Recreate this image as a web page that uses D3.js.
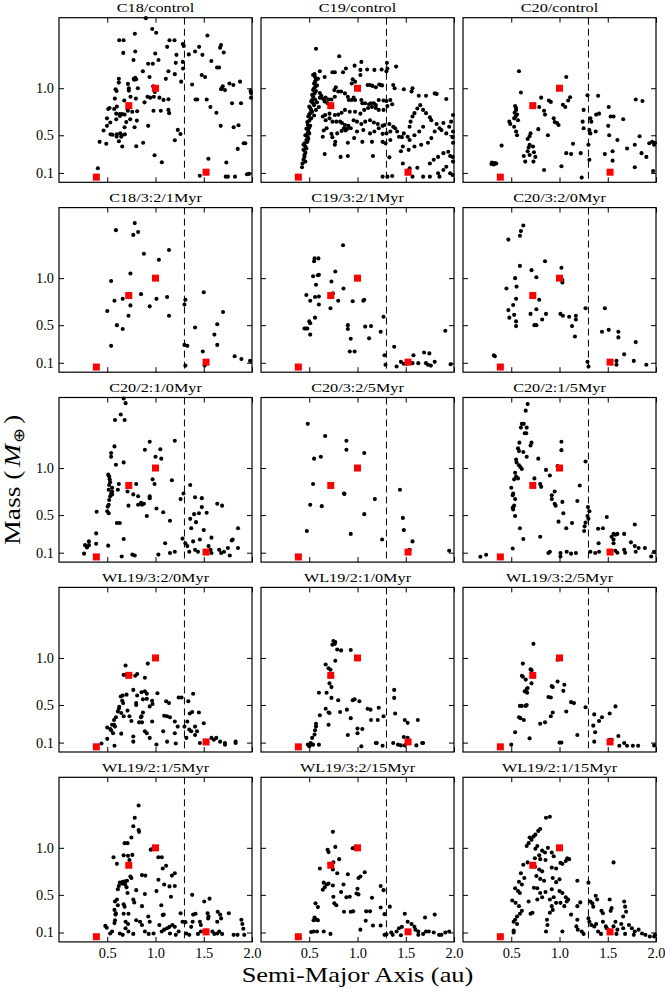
<!DOCTYPE html>
<html><head><meta charset="utf-8">
<script src="https://cdn.jsdelivr.net/npm/d3@7"></script>
<style>
body{margin:0;background:#fff}
svg{display:block}
text{font-family:"Liberation Serif","Times New Roman",Times,serif;fill:#000;font-weight:normal}
</style>
</head><body>
<svg id="chart" width="665" height="993"></svg>
<script>
// ---------- data ----------
const panelTitles = ["C18/control","C19/control","C20/control",
  "C18/3:2/1Myr","C19/3:2/1Myr","C20/3:2/0Myr",
  "C20/2:1/0Myr","C20/3:2/5Myr","C20/2:1/5Myr",
  "WL19/3:2/0Myr","WL19/2:1/0Myr","WL19/3:2/5Myr",
  "WL19/2:1/5Myr","WL19/3:2/15Myr","WL19/2:1/15Myr"];

const planetA = [0.387, 0.723, 1.0, 1.524];
const planetM = [0.055, 0.815, 1.0, 0.107];
const xTickValues = [0.5, 1.0, 1.5, 2.0];
const yTickValues = [0.1, 0.5, 1.0];
const xDomain = [0, 2];
const yDomain = [0, 1.75];
const dashedA = 1.3;

const c18Control = [[0.90,1.745],[0.786,1.58],[0.966,1.63],[1.007,1.59],[0.624,1.51],[0.669,1.51],[0.666,1.376],[0.79,1.39],[0.772,1.30],[1.145,1.51],[1.197,1.51],[1.121,1.44],[1.283,1.47],[1.293,1.45],[0.997,1.37],[1.217,1.355],[1.345,1.36],[1.452,1.44],[1.538,1.56],[1.41,1.39],[1.486,1.355],[1.679,1.46],[1.669,1.43],[1.707,1.38],[1.579,1.29],[1.638,1.22],[1.659,1.22],[0.924,1.26],[0.972,1.26],[1.031,1.30],[1.21,1.27],[1.283,1.28],[1.286,1.21],[0.869,1.18],[0.938,1.12],[1.134,1.18],[1.2,1.15],[1.107,1.10],[1.266,1.07],[0.775,1.10],[0.78,1.09],[0.79,1.11],[0.80,1.095],[0.62,1.10],[0.62,1.06],[0.714,1.046],[0.724,1.0],[0.586,0.99],[0.597,0.97],[0.724,0.975],[0.817,1.0],[0.976,1.02],[0.986,1.0],[0.993,0.96],[0.945,0.90],[0.983,0.91],[1.041,0.90],[1.083,0.876],[1.134,0.883],[0.917,0.91],[0.886,0.85],[0.797,0.89],[0.741,0.91],[0.676,0.87],[0.579,0.89],[0.60,0.805],[0.51,0.78],[0.524,0.79],[0.572,0.78],[0.593,0.73],[0.63,0.725],[0.655,0.725],[0.68,0.72],[0.71,0.78],[0.714,0.76],[0.759,0.75],[0.81,0.755],[0.979,0.76],[1.055,0.76],[1.134,0.77],[1.141,0.735],[0.497,0.68],[0.531,0.635],[0.593,0.67],[0.631,0.705],[0.697,0.64],[0.738,0.67],[0.807,0.656],[0.679,0.585],[0.783,0.585],[0.924,0.60],[0.462,0.55],[0.497,0.60],[0.534,0.51],[0.555,0.505],[0.60,0.51],[0.635,0.52],[0.645,0.485],[0.652,0.50],[0.683,0.51],[0.597,0.486],[0.421,0.43],[0.49,0.41],[0.621,0.436],[0.655,0.38],[0.80,0.383],[0.872,0.42],[1.231,0.557],[1.259,0.514],[1.20,0.447],[0.99,0.287],[1.066,0.213],[1.379,1.04],[1.415,0.88],[1.432,0.88],[1.531,0.88],[1.479,1.14],[1.514,1.12],[1.569,0.80],[1.631,0.74],[1.68,0.99],[1.686,1.0],[1.697,1.02],[1.72,0.98],[1.766,1.05],[1.807,1.035],[1.876,1.07],[1.99,0.95],[1.99,0.90],[1.985,0.97],[1.793,0.84],[1.886,0.84],[1.676,0.60],[1.81,0.585],[1.86,0.607],[1.914,0.415],[1.93,0.415],[1.852,0.355],[1.734,0.21],[1.548,0.25],[1.459,0.07],[1.728,0.06],[1.75,0.06],[1.824,0.06],[1.948,0.085],[1.97,0.09],[0.403,0.15]];

const c19Control = [[0.425,0.16],[0.44,0.24],[0.45,0.27],[0.46,0.315],[0.44,0.345],[0.46,0.38],[0.45,0.415],[0.47,0.45],[0.485,0.48],[0.48,0.515],[0.49,0.54],[0.495,0.575],[0.485,0.61],[0.50,0.655],[0.49,0.70],[0.51,0.735],[0.52,0.77],[0.50,0.805],[0.54,0.84],[0.53,0.875],[0.54,0.91],[0.555,0.945],[0.54,0.98],[0.565,1.02],[0.55,1.05],[0.57,1.09],[0.56,1.12],[0.45,0.29],[0.47,0.36],[0.44,0.40],[0.48,0.43],[0.46,0.50],[0.50,0.52],[0.47,0.57],[0.51,0.60],[0.48,0.64],[0.52,0.68],[0.50,0.72],[0.53,0.75],[0.51,0.79],[0.55,0.82],[0.52,0.86],[0.56,0.88],[0.53,0.93],[0.57,0.97],[0.55,1.0],[0.58,1.03],[0.56,1.07],[0.59,1.10],[0.55,0.71],[0.57,0.77],[0.49,0.46],[0.43,0.20],[0.46,0.22],[0.58,0.85],[0.60,0.80],[0.61,0.90],
[0.61,0.95],[0.625,0.92],[0.64,0.89],[0.66,0.86],[0.67,0.90],[0.70,0.88],[0.69,0.84],[0.73,0.88],[0.765,0.91],[0.76,0.98],[0.775,1.01],[0.80,0.965],[0.83,0.965],[0.87,0.945],[0.90,0.91],[0.91,0.875],[0.94,0.875],[0.96,0.90],[0.975,0.875],[1.04,0.875],[1.05,0.84],[1.08,0.84],[1.12,0.83],[1.14,0.84],[1.17,0.84],[1.19,0.82],[1.22,0.875],[1.27,0.87],[1.30,0.865],[1.34,0.875],[1.36,0.83],[1.31,0.81],[1.27,0.77],[1.22,0.77],[1.19,0.79],[1.15,0.80],[1.11,0.79],[1.07,0.77],[1.03,0.73],[0.975,0.75],[0.92,0.75],[0.87,0.77],[0.835,0.74],[0.80,0.72],[0.765,0.715],[0.71,0.73],[0.665,0.715],[0.64,0.70],[0.67,0.66],[0.71,0.68],[0.74,0.645],[0.78,0.645],[0.82,0.645],[0.84,0.63],[0.87,0.61],[0.86,0.575],[0.875,0.55],[0.89,0.565],[0.905,0.60],[0.93,0.575],[0.96,0.66],[0.995,0.645],[1.04,0.62],[1.08,0.645],[1.13,0.66],[1.17,0.635],[1.21,0.62],[1.26,0.60],[1.28,0.61],[1.33,0.62],[1.37,0.59],[1.39,0.575],[1.41,0.54],[1.34,0.54],[1.30,0.52],[1.26,0.515],[1.22,0.575],[1.175,0.54],[1.13,0.52],[1.06,0.555],[0.995,0.54],[0.965,0.47],[0.835,0.545],[0.79,0.52],[0.73,0.515],[0.68,0.575],[0.65,0.55],[0.64,0.485],[0.74,0.48],[0.77,0.43],[0.765,0.40],[0.90,0.42],[1.05,0.43],[1.15,0.43],[1.26,0.43],[1.29,0.415],[1.34,0.45],[1.43,0.485],[1.46,0.48],[1.48,0.52],[1.54,0.59],[1.55,0.645],[1.57,0.70],[1.59,0.735],[1.62,0.785],[1.65,0.82],[1.68,0.77],[1.71,0.735],[1.75,0.69],[1.765,0.66],[1.82,0.62],[1.85,0.575],[1.87,0.555],[1.92,0.52],[1.95,0.59],[1.97,0.645],[1.89,0.63],[1.80,0.54],[1.765,0.47],[1.73,0.42],[1.66,0.40],[1.59,0.38],[1.53,0.345],[1.54,0.45],[1.59,0.50],[1.64,0.54],[1.68,0.59],[1.52,0.485],[1.47,0.38],[1.45,0.33],[0.66,0.30],[0.825,0.27],[0.90,0.28],[1.16,0.28],[1.33,0.265],[1.47,0.20],[1.54,0.15],[1.62,0.155],[1.75,0.20],[1.79,0.24],[1.835,0.27],[1.89,0.31],[1.94,0.325],[1.96,0.28],[1.92,0.165],[1.89,0.13],[1.835,0.096],[1.75,0.06],[1.68,0.06],[1.57,0.06],[1.52,0.113],[1.26,0.06],[1.31,0.06],[1.36,0.067],[1.85,0.06],[1.96,0.096],[1.985,0.078],[1.99,0.22],[1.985,0.27],
[0.57,1.42],[0.81,1.34],[1.04,1.28],[0.97,1.24],[0.88,1.21],[0.74,1.17],[0.765,1.17],[0.85,1.17],[0.61,1.18],[0.54,1.14],[0.555,1.15],[0.66,1.12],[1.03,1.195],[1.03,1.14],[1.10,1.20],[1.175,1.195],[1.25,1.20],[1.305,1.27],[1.31,1.21],[1.30,1.18],[1.40,1.23],[0.95,1.095],[0.975,1.07],[0.94,1.05],[1.105,1.035],[1.13,1.035],[1.155,1.025],[1.19,1.01],[1.225,1.04],[1.24,1.035],[1.255,1.03],[1.37,1.035],[1.385,1.0],[1.48,0.99],[1.57,1.0],[1.56,0.965],[1.635,0.92],[1.71,0.92],[1.80,0.945],[1.82,0.94],[1.92,0.885],[1.99,0.715],[1.99,0.54],[1.985,0.48],[1.99,0.42]];

const c20Control = [[0.58,1.18],[1.07,1.12],[0.60,0.955],[0.81,0.90],[0.89,0.87],[0.91,0.855],[1.11,0.905],[1.09,0.87],[1.06,0.80],[1.035,0.825],[1.29,0.925],[1.40,0.92],[1.79,0.88],[1.86,0.865],[0.54,0.81],[0.55,0.79],[0.55,0.77],[0.535,0.74],[0.56,0.72],[0.545,0.70],[0.53,0.68],[0.57,0.66],[0.48,0.645],[0.49,0.62],[0.53,0.59],[0.55,0.54],[0.56,0.50],[0.79,0.80],[0.84,0.76],[0.85,0.72],[0.94,0.68],[0.95,0.64],[0.975,0.63],[0.99,0.61],[1.25,0.77],[1.32,0.68],[1.33,0.645],[1.24,0.645],[1.25,0.575],[1.31,0.555],[1.32,0.52],[1.38,0.72],[1.41,0.73],[1.51,0.80],[1.53,0.70],[1.56,0.70],[1.505,0.60],[1.515,0.50],[1.66,0.67],[0.78,0.565],[0.70,0.52],[0.69,0.49],[0.67,0.46],[0.88,0.50],[0.69,0.40],[0.68,0.37],[0.67,0.33],[0.725,0.38],[0.735,0.32],[0.40,0.39],[1.14,0.41],[1.07,0.31],[1.12,0.30],[1.22,0.31],[1.30,0.40],[1.375,0.54],[1.60,0.45],[1.70,0.36],[1.78,0.40],[1.83,0.49],[1.85,0.31],[1.90,0.27],[1.93,0.415],[1.96,0.43],[1.98,0.40],[1.99,0.42],[1.55,0.33],[1.47,0.30],[0.63,0.28],[0.69,0.29],[0.75,0.27],[0.73,0.22],[0.645,0.22],[0.84,0.13],[1.02,0.17],[1.23,0.05],[1.31,0.24],[1.55,0.23],[1.78,0.16],[1.97,0.12],[0.30,0.21],[0.31,0.20],[0.33,0.205],[0.32,0.19],[0.345,0.20],[0.295,0.195]];

const c18Res32at1 = [[0.785,1.585],[0.59,1.51],[0.77,1.46],[0.82,1.49],[0.88,1.26],[1.14,1.30],[1.035,1.195],[0.74,1.05],[0.54,0.97],[0.575,0.76],[0.66,0.78],[0.71,0.83],[0.85,0.83],[1.01,0.78],[1.12,0.80],[0.74,0.71],[0.94,0.70],[0.50,0.65],[0.72,0.60],[1.14,0.60],[0.60,0.50],[0.66,0.46],[0.54,0.28],[1.31,0.77],[1.30,0.72],[1.50,0.85],[1.70,0.64],[1.41,0.475],[1.64,0.51],[1.61,0.40],[1.64,0.29],[1.30,0.29],[1.33,0.28],[1.49,0.22],[1.82,0.17],[1.89,0.14],[1.98,0.12],[1.31,0.07],[1.51,0.07]];

const c19Res32at1 = [[0.85,1.35],[0.555,1.21],[0.595,1.21],[0.55,1.18],[0.77,1.07],[0.59,1.03],[0.60,1.035],[0.54,1.02],[0.73,0.965],[0.57,0.93],[0.47,0.82],[0.56,0.80],[0.60,0.805],[0.51,0.76],[0.60,0.72],[0.74,0.83],[0.745,0.84],[0.855,0.89],[0.80,0.76],[0.72,0.68],[0.95,0.755],[1.06,0.76],[1.07,0.77],[0.56,0.58],[0.50,0.54],[0.51,0.52],[0.45,0.465],[0.465,0.465],[0.48,0.465],[0.51,0.40],[0.90,0.50],[0.90,0.46],[0.93,0.355],[0.92,0.22],[0.97,0.22],[1.08,0.485],[1.14,0.49],[1.12,0.36],[1.24,0.43],[1.27,0.59],[1.28,0.18],[1.29,0.08],[1.38,0.27],[1.405,0.06],[1.45,0.11],[1.48,0.09],[1.58,0.18],[1.57,0.096],[1.63,0.096],[1.69,0.21],[1.745,0.20],[1.71,0.096],[1.73,0.08],[1.76,0.07],[1.80,0.11],[1.91,0.44],[1.965,0.085],[1.51,0.09]];

const c20Res32at0 = [[0.625,1.56],[0.60,1.50],[0.59,1.45],[0.47,1.41],[0.85,1.18],[0.59,1.13],[1.02,1.11],[0.71,1.085],[0.76,1.01],[0.54,1.0],[1.03,0.98],[1.03,0.955],[0.45,0.89],[0.555,0.91],[0.55,0.78],[0.79,0.77],[0.52,0.715],[0.47,0.66],[0.76,0.67],[0.70,0.62],[0.86,0.62],[0.53,0.61],[0.48,0.58],[0.55,0.54],[0.55,0.49],[0.82,0.56],[0.74,0.50],[0.76,0.50],[1.01,0.62],[1.035,0.60],[1.10,0.59],[1.17,0.60],[1.17,0.56],[1.13,0.49],[1.16,0.38],[1.27,0.68],[1.47,0.68],[1.44,0.43],[1.51,0.45],[1.61,0.43],[1.61,0.37],[1.79,0.32],[1.67,0.19],[1.77,0.12],[1.90,0.08],[1.59,0.12],[1.59,0.08],[1.29,0.11],[1.30,0.06],[0.32,0.18],[0.33,0.17]];

const c20Res21at0 = [[0.67,1.74],[0.69,1.69],[0.64,1.57],[0.68,1.51],[0.58,1.51],[0.67,1.06],[0.94,1.28],[0.89,1.195],[1.05,1.20],[1.0,1.12],[1.06,1.10],[1.20,1.29],[0.575,1.23],[0.54,1.16],[0.54,1.12],[0.59,1.035],[0.51,0.93],[0.52,0.91],[0.525,0.88],[0.53,0.85],[0.52,0.82],[0.515,0.77],[0.54,0.73],[0.53,0.70],[0.52,0.66],[0.515,0.61],[0.505,0.59],[0.50,0.54],[0.515,0.52],[0.55,0.79],[0.55,0.75],[0.55,0.72],[0.62,0.83],[0.61,0.77],[0.71,0.75],[0.80,0.83],[0.77,0.72],[0.82,0.70],[0.85,0.63],[0.82,0.61],[0.86,0.61],[0.88,0.62],[0.72,0.60],[0.94,0.70],[0.94,0.68],[0.97,0.88],[0.99,0.83],[0.91,0.49],[1.01,0.57],[1.08,0.53],[1.17,0.87],[1.15,0.44],[1.26,0.67],[1.29,0.73],[1.36,0.82],[1.41,0.69],[1.48,0.68],[1.64,0.62],[1.69,0.60],[1.36,0.46],[1.40,0.51],[1.45,0.52],[1.48,0.585],[1.37,0.36],[1.53,0.525],[1.42,0.425],[1.50,0.34],[1.58,0.26],[1.855,0.36],[1.79,0.23],[1.80,0.24],[0.60,0.415],[0.63,0.415],[0.67,0.245],[0.39,0.535],[0.385,0.305],[0.385,0.195],[0.31,0.22],[0.31,0.18],[0.27,0.18],[0.29,0.156],[0.26,0.09],[0.51,0.175],[1.10,0.20],[1.03,0.08],[1.15,0.096],[1.20,0.11],[0.65,0.06],[0.76,0.08],[0.785,0.07],[1.28,0.25],[1.31,0.20],[1.33,0.17],[1.35,0.11],[1.39,0.22],[1.41,0.13],[1.44,0.11],[1.46,0.24],[1.55,0.17],[1.57,0.13],[1.66,0.13],[1.68,0.096],[1.71,0.11],[1.75,0.15],[1.77,0.07],[1.855,0.15],[1.58,0.096]];

const c20Res32at5 = [[0.485,1.47],[0.665,1.34],[0.885,1.29],[0.885,1.195],[1.07,1.16],[0.55,1.10],[0.62,1.12],[0.54,0.83],[0.86,0.73],[0.865,0.725],[1.18,0.67],[0.51,0.61],[0.63,0.595],[1.07,0.51],[1.44,0.77],[1.47,0.47],[1.48,0.34],[1.57,0.22],[1.54,0.13],[1.255,0.24],[0.93,0.30],[0.475,0.33],[1.95,0.12]];

const c20Res21at5 = [[0.67,1.68],[0.65,1.61],[0.61,1.47],[0.63,1.47],[0.60,1.43],[0.66,1.43],[0.64,1.37],[0.655,1.37],[0.71,1.27],[0.70,1.24],[0.585,1.27],[0.57,1.21],[0.58,1.18],[0.66,1.12],[0.55,1.09],[0.555,1.06],[0.625,1.17],[0.78,1.10],[1.02,1.28],[1.02,1.19],[1.27,1.07],[0.58,1.03],[0.595,1.01],[0.61,0.99],[0.54,0.95],[0.55,0.91],[0.57,0.89],[0.53,0.88],[0.50,0.79],[0.52,0.73],[0.515,0.71],[0.54,0.67],[0.53,0.60],[0.515,0.58],[0.52,0.56],[0.54,0.49],[0.59,0.36],[0.625,0.245],[0.80,0.27],[0.74,0.89],[0.80,0.83],[0.81,0.80],[0.86,0.98],[0.90,0.92],[0.95,0.75],[0.92,0.71],[0.92,0.67],[0.95,0.62],[0.96,0.60],[0.98,1.02],[1.0,1.0],[1.03,0.64],[1.04,0.52],[0.99,0.43],[1.07,0.36],[1.21,0.815],[1.185,0.65],[1.13,0.415],[1.255,0.33],[1.26,0.38],[1.295,0.585],[1.31,0.54],[1.29,0.49],[1.30,0.46],[1.27,0.42],[1.40,0.355],[1.45,0.36],[1.49,0.48],[1.54,0.27],[1.56,0.30],[1.58,0.29],[1.60,0.30],[1.67,0.30],[1.56,0.20],[1.56,0.24],[1.405,0.20],[1.41,0.11],[1.58,0.12],[1.60,0.10],[1.67,0.13],[1.74,0.21],[1.78,0.17],[1.82,0.15],[1.885,0.15],[1.78,0.40],[1.68,0.10],[1.95,0.06],[1.98,0.11],[1.79,0.11],[1.32,0.11],[1.37,0.096],[1.17,0.096],[1.12,0.09],[1.01,0.06],[0.885,0.096],[0.90,0.11],[0.18,0.057],[0.24,0.078],[0.515,0.145],[1.075,0.11],[1.01,0.096]];

const wl19Res32at0 = [[0.69,0.92],[0.67,0.82],[0.695,0.82],[0.715,0.815],[0.74,0.82],[0.79,0.81],[0.81,0.83],[0.92,0.94],[0.89,0.79],[0.77,0.66],[0.855,0.635],[0.89,0.645],[0.91,0.62],[1.02,0.625],[0.64,0.59],[0.66,0.60],[0.70,0.61],[0.81,0.60],[0.87,0.56],[0.91,0.565],[0.655,0.545],[0.665,0.52],[0.62,0.46],[0.61,0.43],[0.625,0.48],[0.645,0.415],[0.67,0.38],[0.71,0.44],[0.80,0.52],[0.80,0.50],[0.87,0.42],[0.855,0.38],[0.965,0.545],[0.97,0.51],[0.94,0.485],[1.11,0.54],[1.14,0.52],[1.24,0.58],[1.27,0.58],[1.34,0.54],[1.39,0.62],[1.355,0.41],[1.38,0.425],[1.45,0.42],[1.50,0.305],[1.09,0.385],[1.12,0.38],[1.15,0.37],[1.20,0.325],[1.30,0.27],[1.33,0.325],[0.73,0.38],[0.75,0.33],[0.59,0.37],[0.57,0.34],[0.55,0.29],[0.57,0.29],[0.58,0.27],[0.50,0.26],[0.53,0.245],[0.54,0.23],[0.56,0.20],[0.645,0.195],[0.83,0.315],[0.86,0.315],[0.85,0.37],[0.77,0.165],[0.89,0.22],[0.91,0.20],[0.965,0.325],[1.08,0.22],[1.20,0.20],[1.23,0.27],[1.35,0.24],[1.37,0.22],[1.41,0.18],[1.41,0.27],[1.43,0.22],[0.77,0.11],[0.94,0.15],[1.01,0.08],[1.12,0.11],[1.21,0.09],[1.32,0.15],[0.44,0.09],[0.50,0.14],[0.575,0.067],[1.58,0.15],[1.605,0.13],[1.63,0.15],[1.67,0.11],[1.72,0.096],[1.72,0.078],[1.83,0.11],[1.83,0.096],[1.46,0.096],[1.52,0.12]];

const wl19Res21at0 = [[0.75,1.18],[0.77,1.17],[0.765,1.15],[0.74,1.14],[0.79,1.09],[0.83,1.08],[0.93,1.085],[0.77,0.97],[0.67,0.93],[0.70,0.89],[0.72,0.875],[0.725,0.805],[0.71,0.73],[0.73,0.69],[0.60,0.63],[0.68,0.63],[0.73,0.575],[0.80,0.55],[0.67,0.46],[0.70,0.42],[0.71,0.415],[0.61,0.39],[0.57,0.30],[0.57,0.27],[0.70,0.29],[0.56,0.23],[0.555,0.185],[0.53,0.15],[0.515,0.096],[0.51,0.078],[0.54,0.078],[0.485,0.08],[0.50,0.06],[0.60,0.078],[0.82,0.425],[0.89,0.45],[0.93,0.36],[0.95,0.55],[0.97,0.56],[1.02,0.54],[0.90,0.18],[1.0,0.25],[1.05,0.245],[1.0,0.20],[1.04,0.06],[1.105,0.46],[1.135,0.45],[1.22,0.47],[1.14,0.34],[1.21,0.34],[1.27,0.38],[1.19,0.096],[1.20,0.096],[1.26,0.067],[1.38,0.66],[1.38,0.575],[1.39,0.41],[1.49,0.34],[1.52,0.31],[1.48,0.16],[1.52,0.15],[1.37,0.096],[1.42,0.078],[1.45,0.07],[1.49,0.07],[1.625,0.34],[1.61,0.07],[1.67,0.096],[1.68,0.096]];

const wl19Res32at5 = [[0.73,1.15],[0.62,0.94],[0.70,0.88],[0.71,0.87],[0.61,0.81],[0.62,0.80],[0.65,0.77],[0.71,0.73],[0.67,0.68],[0.66,0.67],[0.64,0.645],[0.665,0.63],[0.61,0.49],[0.59,0.49],[0.65,0.49],[0.66,0.50],[0.58,0.37],[0.595,0.36],[0.63,0.34],[0.54,0.21],[0.69,0.145],[0.50,0.078],[0.80,0.30],[0.85,0.315],[0.91,0.38],[0.93,0.42],[0.885,0.585],[0.91,0.58],[0.92,0.70],[0.93,0.69],[0.98,0.75],[1.01,0.99],[0.98,0.98],[1.05,0.715],[1.04,0.65],[1.07,0.43],[1.12,0.53],[1.15,0.52],[1.0,0.10],[1.02,0.10],[1.185,0.18],[1.27,0.475],[1.35,0.28],[1.36,0.40],[1.37,0.21],[1.36,0.11],[1.41,0.33],[1.44,0.37],[1.52,0.41],[1.58,0.485],[1.52,0.13],[1.54,0.13],[1.61,0.17],[1.62,0.067],[1.67,0.096],[1.70,0.067],[1.76,0.067],[1.815,0.067],[1.98,0.07]];

const wl19Res21at5 = [[0.825,1.45],[0.785,1.32],[0.77,1.23],[0.825,1.19],[0.83,1.17],[0.75,1.11],[0.68,1.05],[0.71,1.05],[0.67,0.92],[0.715,0.915],[0.76,0.925],[0.565,0.90],[0.60,0.83],[0.73,0.87],[0.66,0.64],[0.685,0.645],[0.705,0.65],[0.63,0.63],[0.655,0.62],[0.685,0.61],[0.62,0.595],[0.61,0.56],[0.74,0.695],[0.75,0.68],[0.86,0.71],[0.895,0.705],[0.60,0.45],[0.58,0.43],[0.61,0.39],[0.575,0.34],[0.59,0.305],[0.585,0.29],[0.67,0.40],[0.68,0.375],[0.77,0.45],[0.78,0.42],[0.70,0.58],[0.71,0.52],[0.80,0.55],[0.89,0.51],[0.86,0.38],[0.67,0.30],[0.72,0.30],[0.58,0.23],[0.575,0.20],[0.48,0.17],[0.495,0.15],[0.55,0.11],[0.53,0.09],[0.69,0.215],[0.715,0.19],[0.69,0.145],[0.72,0.11],[0.63,0.09],[0.66,0.075],[0.77,0.085],[0.80,0.23],[0.84,0.215],[0.86,0.18],[0.89,0.11],[0.925,0.27],[0.94,0.215],[0.93,0.085],[0.98,0.09],[0.95,0.98],[0.96,0.985],[1.03,0.90],[1.065,0.90],[1.01,0.54],[1.03,0.66],[1.06,0.39],[1.11,0.81],[1.075,0.78],[1.09,0.61],[1.145,0.59],[1.20,0.595],[1.16,0.48],[1.17,0.705],[1.20,0.73],[1.075,0.285],[1.085,0.29],[1.04,0.18],[1.065,0.11],[1.09,0.13],[1.12,0.145],[1.145,0.16],[1.175,0.18],[1.20,0.16],[1.15,0.09],[1.21,0.075],[1.24,0.11],[1.26,0.305],[1.28,0.215],[1.31,0.21],[1.32,0.09],[1.35,0.075],[1.37,0.16],[1.385,0.215],[1.39,0.29],[1.415,0.30],[1.38,0.50],[1.44,0.085],[1.47,0.11],[1.505,0.43],[1.56,0.46],[1.54,0.305],[1.55,0.27],[1.545,0.25],[1.59,0.11],[1.61,0.085],[1.64,0.09],[1.66,0.11],[1.69,0.085],[1.645,0.32],[1.67,0.29],[1.68,0.25],[1.64,0.215],[1.76,0.305],[1.46,0.215],[1.47,0.18],[1.81,0.075],[1.85,0.075],[1.89,0.235],[1.90,0.19],[1.91,0.14],[1.92,0.075],[1.53,0.12]];

const wl19Res32at15 = [[0.745,1.17],[0.77,1.01],[0.69,0.98],[0.70,0.955],[0.95,0.995],[0.97,1.0],[0.81,0.88],[0.71,0.83],[0.75,0.845],[0.61,0.78],[0.745,0.77],[0.79,0.73],[0.90,0.72],[1.075,0.74],[1.03,0.695],[1.01,0.68],[0.65,0.63],[0.68,0.61],[0.70,0.62],[0.66,0.58],[0.64,0.555],[0.745,0.60],[0.855,0.61],[1.0,0.565],[0.99,0.515],[1.01,0.505],[0.75,0.48],[0.885,0.475],[0.92,0.48],[0.83,0.53],[1.15,0.47],[1.24,0.595],[1.27,0.55],[0.76,0.41],[0.78,0.39],[0.86,0.32],[0.93,0.32],[0.955,0.325],[0.565,0.41],[0.59,0.37],[0.555,0.26],[0.575,0.235],[0.59,0.23],[0.545,0.23],[1.09,0.325],[1.13,0.325],[1.24,0.365],[1.335,0.375],[1.28,0.295],[1.085,0.225],[1.03,0.13],[1.16,0.175],[1.24,0.175],[0.52,0.106],[0.545,0.11],[0.58,0.11],[0.65,0.11],[0.72,0.085],[1.28,0.075],[1.30,0.08],[1.405,0.11],[1.43,0.145],[1.46,0.16],[1.52,0.215],[1.49,0.30],[1.56,0.19],[1.59,0.16],[1.60,0.13],[1.35,0.10],[1.365,0.075],[1.63,0.11],[1.68,0.085],[1.71,0.11],[1.74,0.11],[1.79,0.10],[1.70,0.26],[1.80,0.29],[1.845,0.075],[1.87,0.075],[1.91,0.10],[1.95,0.11],[1.63,0.075],[1.45,0.07]];

const wl19Res21at15 = [[0.90,1.33],[0.86,1.32],[0.80,1.20],[0.78,1.18],[0.75,1.14],[0.73,1.12],[0.69,1.11],[0.71,1.085],[0.68,1.05],[0.66,1.02],[0.77,1.02],[0.75,0.99],[0.88,1.0],[0.82,0.97],[0.85,0.95],[0.79,0.92],[0.745,0.89],[0.80,0.88],[0.855,0.87],[0.92,0.95],[0.94,0.91],[1.08,0.89],[1.10,0.88],[1.065,0.86],[1.01,0.84],[1.03,0.83],[0.625,0.82],[0.67,0.845],[0.745,0.80],[0.79,0.77],[0.82,0.75],[0.92,0.79],[0.965,0.78],[0.60,0.73],[0.635,0.68],[0.76,0.70],[0.80,0.67],[0.84,0.65],[0.93,0.68],[1.0,0.665],[0.965,0.635],[0.58,0.64],[0.61,0.61],[0.54,0.57],[0.57,0.54],[0.59,0.52],[0.735,0.575],[0.77,0.57],[0.80,0.52],[0.855,0.53],[0.92,0.56],[1.0,0.54],[1.03,0.52],[1.065,0.475],[1.09,0.45],[0.90,0.45],[0.94,0.475],[0.965,0.415],[0.51,0.44],[0.545,0.415],[0.58,0.38],[0.68,0.43],[0.77,0.45],[0.82,0.475],[0.92,0.38],[0.93,0.34],[0.90,0.31],[1.01,0.415],[1.05,0.38],[1.075,0.43],[0.61,0.33],[0.59,0.30],[0.56,0.27],[0.54,0.235],[0.525,0.215],[0.56,0.19],[0.72,0.31],[0.70,0.30],[0.87,0.235],[0.875,0.18],[0.86,0.11],[0.525,0.12],[0.525,0.10],[1.03,0.11],[1.185,0.65],[1.215,0.42],[1.185,0.38],[1.30,0.63],[1.32,0.43],[1.34,0.41],[1.35,0.375],[1.30,0.25],[1.31,0.215],[1.33,0.18],[1.175,0.165],[1.19,0.13],[1.23,0.11],[1.25,0.085],[1.36,0.165],[1.38,0.19],[1.40,0.11],[1.43,0.085],[1.375,0.49],[1.39,0.45],[1.435,0.33],[1.45,0.305],[1.45,0.215],[1.48,0.165],[1.49,0.145],[1.515,0.12],[1.56,0.845],[1.52,0.45],[1.54,0.36],[1.53,0.33],[1.58,0.215],[1.56,0.165],[1.60,0.13],[1.59,0.085],[1.64,0.19],[1.66,0.145],[1.68,0.085],[1.67,0.43],[1.68,0.375],[1.69,0.32],[1.66,0.27],[1.72,0.18],[1.75,0.145],[1.78,0.11],[1.77,0.075],[1.82,0.13],[1.855,0.09],[1.89,0.075],[1.935,0.057],[1.98,0.057],[1.99,0.075],[1.185,0.235],[1.12,0.29]];

const panelPoints = [c18Control, c19Control, c20Control,
  c18Res32at1, c19Res32at1, c20Res32at0,
  c20Res21at0, c20Res32at5, c20Res21at5,
  wl19Res32at0, wl19Res21at0, wl19Res32at5,
  wl19Res21at5, wl19Res32at15, wl19Res21at15];

// ---------- layout ----------
const colLeft = [59, 261, 463];
const panelW = 193, panelH = 164.6;
const rowTop0 = 17.7, rowStep = 189.9;

const svg = d3.select("#chart");
svg.append("rect").attr("width",665).attr("height",993).attr("fill","#fff");

const x = d3.scaleLinear().domain(xDomain).range([0, panelW]);
const y = d3.scaleLinear().domain(yDomain).range([panelH, 0]);
const fmt = d3.format(".1f");

panelTitles.forEach((title, i) => {
  const row = Math.floor(i / 3), col = i % 3;
  const g = svg.append("g")
    .attr("transform", `translate(${colLeft[col]},${rowTop0 + row * rowStep})`);

  g.append("line")
    .attr("x1", x(dashedA)).attr("x2", x(dashedA))
    .attr("y1", 0).attr("y2", panelH)
    .attr("stroke", "#000").attr("stroke-width", 1)
    .attr("stroke-dasharray", "7,4");

  g.append("g").selectAll("circle").data(panelPoints[i]).join("circle")
    .attr("cx", d => x(d[0])).attr("cy", d => y(d[1]))
    .attr("r", 2.05).attr("fill", "#000");

  g.append("g").selectAll("rect").data(planetA.map((a, k) => [a, planetM[k]])).join("rect")
    .attr("x", d => x(d[0]) - 3.5).attr("y", d => y(d[1]) - 3.5)
    .attr("width", 7).attr("height", 7).attr("fill", "#ff0000");

  const bottom = g.append("g").attr("transform", `translate(0,${panelH})`)
    .call(d3.axisBottom(x).tickValues(xTickValues).tickSize(-5).tickPadding(6)
      .tickFormat(row === 4 ? fmt : () => ""));
  const top = g.append("g")
    .call(d3.axisTop(x).tickValues(xTickValues).tickSize(-5).tickFormat(() => ""));
  const left = g.append("g")
    .call(d3.axisLeft(y).tickValues(yTickValues).tickSize(-5).tickPadding(5)
      .tickFormat(col === 0 ? fmt : () => ""));
  const right = g.append("g").attr("transform", `translate(${panelW},0)`)
    .call(d3.axisRight(y).tickValues(yTickValues).tickSize(-5).tickFormat(() => ""));
  [bottom, top, left, right].forEach(a => {
    a.attr("font-family", null).attr("font-size", null);
    a.select(".domain").remove();
    a.selectAll(".tick line").attr("stroke", "#000").attr("stroke-width", 1);
    a.selectAll("text").attr("font-size", 13.8).attr("fill", "#000").classed("tickLabel", true);
  });

  g.append("rect").attr("width", panelW).attr("height", panelH)
    .attr("fill", "none").attr("stroke", "#000").attr("stroke-width", 1.2);

  g.append("text").attr("class", "titleText")
    .attr("x", panelW / 2).attr("y", -5.7)
    .attr("text-anchor", "middle").attr("font-size", 13.5)
    .text(title);
});

// axis titles
svg.append("text").attr("class", "axisTitle")
  .attr("x", colLeft[1] + panelW / 2).attr("y", 982)
  .attr("text-anchor", "middle").attr("font-size", 22)
  .text("Semi-Major Axis (au)");

const yl = svg.append("text")
  .attr("transform", `translate(20,${rowTop0 + 2 * rowStep + panelH / 2}) rotate(-90) scale(1.2,1)`)
  .attr("text-anchor", "middle").attr("font-size", 23);
yl.append("tspan").text("Mass (");
yl.append("tspan").attr("dx", 3).attr("font-style", "italic").text("M");
yl.append("tspan").attr("dx", 1).attr("font-size", 15).attr("dy", 4).text("\u2295");
yl.append("tspan").attr("dx", 3).attr("dy", -4).text(")");

// horizontal stretch of texts (original font renders wider)
function stretch(sel, k) {
  sel.each(function () {
    const w = this.getComputedTextLength();
    if (w > 0) d3.select(this).attr("textLength", w * k).attr("lengthAdjust", "spacingAndGlyphs");
  });
}
stretch(svg.selectAll("text.tickLabel"), 1.04);
stretch(svg.selectAll("text.titleText"), 1.2);
stretch(svg.selectAll("text.axisTitle"), 1.2);
</script>
</body></html>
